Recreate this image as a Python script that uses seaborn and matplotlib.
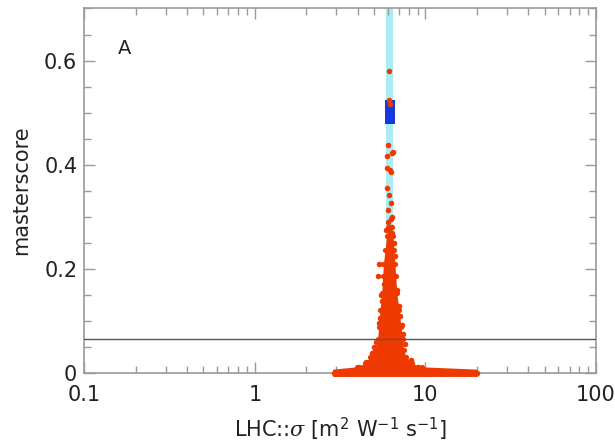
import matplotlib
matplotlib.use("Agg")
import matplotlib.pyplot as plt
import seaborn as sns
import pandas as pd
from matplotlib.ticker import FixedLocator, FixedFormatter, LogLocator, NullFormatter, MultipleLocator

# ---- data -------------------------------------------------------------
# accepted range of sigma (light band) and best-fit box
band_sigma = [5.87, 6.50]
best_sigma = [5.80, 6.65]
best_score = [0.478, 0.524]
threshold = 0.065

# outline of the dense cloud of samples (score level, left/right sigma)
core_score = [-0.007, 0.007, 0.0115, 0.018, 0.031, 0.044, 0.065, 0.088,
              0.121, 0.153, 0.186, 0.21, 0.236, 0.262, 0.28]
core_left = [2.86, 2.86, 3.95, 4.43, 4.75, 5.06, 5.25, 5.32,
             5.42, 5.55, 5.62, 5.68, 5.80, 5.92, 6.05]
core_right = [20.2, 20.2, 9.5, 8.4, 7.7, 7.45, 7.35, 7.2,
              7.0, 6.8, 6.7, 6.62, 6.55, 6.45, 6.35]

# individual samples outside the dense cloud
sample_sigma = [6.11, 6.16, 6.17, 6.05, 6.48, 6.35, 5.95, 5.98, 6.30, 6.20,
                5.95, 6.15, 6.30, 6.05, 6.40, 6.00, 6.30, 5.90, 6.40, 6.25,
                5.38, 5.28, 5.58, 5.45, 5.03, 4.85, 4.50, 4.10, 3.60, 3.20,
                7.30, 7.05, 7.55, 8.20, 9.00, 10.5, 12.5, 15.0, 18.0, 20.0,
                2.90, 6.60, 6.55, 5.70, 5.50, 7.10, 7.40, 5.15, 5.35, 6.85]
sample_score = [0.580, 0.524, 0.516, 0.437, 0.425, 0.422, 0.416, 0.393, 0.385, 0.390,
                0.355, 0.342, 0.326, 0.313, 0.300, 0.290, 0.281, 0.275, 0.268, 0.295,
                0.209, 0.186, 0.137, 0.105, 0.050, 0.038, 0.020, 0.012, 0.000, 0.000,
                0.092, 0.128, 0.055, 0.024, 0.012, 0.000, 0.000, 0.000, 0.000, 0.000,
                0.000, 0.225, 0.250, 0.170, 0.150, 0.110, 0.075, 0.060, 0.095, 0.160]

x_ticks = [0.1, 1, 10, 100]
x_labels = ["0.1", "1", "10", "100"]
y_ticks = [0, 0.2, 0.4, 0.6]
y_labels = ["0", "0.2", "0.4", "0.6"]

# ---- style ------------------------------------------------------------
sns.set_style("ticks")
plt.rcParams["font.family"] = ["DejaVu Sans"]
plt.rcParams["mathtext.fontset"] = "custom"
plt.rcParams["mathtext.rm"] = "DejaVu Sans"
plt.rcParams["mathtext.it"] = "DejaVu Serif:italic"

red = "#ee3a00"
edge_grey = "#9a9a9a"
text_col = "#222222"
fs = 15

fig = plt.figure(figsize=(6.15, 4.47), dpi=100)
ax = fig.add_axes([0.137, 0.166, 0.832, 0.815])

ax.set_xscale("log")
ax.set_xlim(0.1, 100)
ax.set_ylim(0, 0.70)

# accepted band and best-fit box
ax.axvspan(band_sigma[0], band_sigma[1], color="#aaedf2", lw=0, zorder=0)
ax.fill_between(best_sigma, [best_score[0]] * 2, [best_score[1]] * 2,
                color="#1638e0", lw=0, zorder=1)

# dense cloud of samples, drawn above the bottom spine
ax.fill_betweenx(core_score, core_left, core_right, color=red, lw=0,
                 zorder=3, clip_on=False)
edges = pd.DataFrame({
    "sigma": core_left + core_right,
    "score": core_score + core_score,
})
edges = edges[edges["score"] > 0.01]
sns.scatterplot(data=edges, x="sigma", y="score", color=red, s=14,
                linewidth=0, ax=ax, zorder=3.5, clip_on=False)

samples = pd.DataFrame({"sigma": sample_sigma, "score": sample_score})
sns.scatterplot(data=samples, x="sigma", y="score", color=red, s=16,
                linewidth=0, ax=ax, zorder=3.5, clip_on=False)

ax.axhline(threshold, color="#555555", lw=1.0, zorder=4)

# axes decoration
ax.xaxis.set_major_locator(FixedLocator(x_ticks))
ax.xaxis.set_major_formatter(FixedFormatter(x_labels))
ax.xaxis.set_minor_locator(LogLocator(base=10, subs=range(2, 10)))
ax.xaxis.set_minor_formatter(NullFormatter())
ax.yaxis.set_major_locator(FixedLocator(y_ticks))
ax.yaxis.set_major_formatter(FixedFormatter(y_labels))
ax.yaxis.set_minor_locator(MultipleLocator(0.05))

ax.tick_params(which="both", direction="in", top=True, right=True,
               color=edge_grey, width=1.0, labelsize=fs, labelcolor=text_col)
ax.tick_params(which="major", length=8)
ax.tick_params(which="minor", length=5)
ax.tick_params(axis="x", which="major", pad=9)
ax.tick_params(axis="y", which="major", pad=5)

for sp in ax.spines.values():
    sp.set_color(edge_grey)
    sp.set_linewidth(1.2)
    sp.set_visible(True)

ax.set_xlabel(r"LHC::$\it{\sigma}$ [m$^{2}$ W$^{-1}$ s$^{-1}$]", fontsize=fs,
              color=text_col, labelpad=7)
ax.set_ylabel("masterscore", fontsize=fs, color=text_col, labelpad=9)

ax.text(0.066, 0.89, "A", transform=ax.transAxes, fontsize=14,
        color=text_col, va="center", ha="left")

fig.savefig("out.png", dpi=100)
